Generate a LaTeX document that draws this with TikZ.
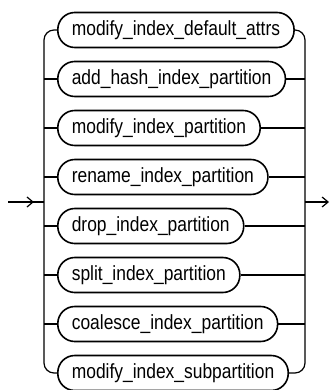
\documentclass[tikz,border=0pt]{standalone}
\usepackage{fontspec}
\newfontfamily\rrfont[FakeStretch=0.85]{Liberation Sans}
\usetikzlibrary{arrows.meta,positioning,decorations.markings}

\begin{document}
\begin{tikzpicture}[x=1pt, y=-1pt, line width=1.2pt,
  rr/.style={draw, line width=1.6pt, rounded corners=17pt, minimum height=35pt,
    inner xsep=14pt, anchor=west, font=\rrfont\fontsize{20.5}{20.5}\selectfont},
  rrtip/.tip={Straight Barb[length=6pt, width=10pt, line width=1.2pt]}]
\useasboundingbox (0,0) rectangle (331,390);
\node[rr] (b1) at (57,30) {modify\_index\_default\_attrs};
\node[rr] (b2) at (57,79) {add\_hash\_index\_partition};
\node[rr] (b3) at (57,128) {modify\_index\_partition};
\node[rr] (b4) at (57,177) {rename\_index\_partition};
\node[rr] (b5) at (57,226) {drop\_index\_partition};
\node[rr] (b6) at (57,275) {split\_index\_partition};
\node[rr] (b7) at (57,324) {coalesce\_index\_partition};
\node[rr] (b8) at (57,373) {modify\_index\_subpartition};
\coordinate (start) at (8,202);
\coordinate (in) at (44,202);
\coordinate (out) at (305,202);
\coordinate (end) at (329,202);
% rails
\draw[rounded corners=10pt] (b1.west) -| (in) |- (b8.west);
\draw[rounded corners=10pt] (b1.east) -| (out) |- (b8.east);
\foreach \b in {b2,b3,b4,b5,b6,b7}
  \draw (\b.west -| in) -- (\b.west) (\b.east) -- (\b.east -| out);
% entry and exit
\draw[postaction={decorate}, decoration={markings,
  mark=at position 0.72 with {\arrow{rrtip}}}] (start) -- (in);
\draw[-{rrtip}] (out) -- (end);
\end{tikzpicture}
\end{document}
